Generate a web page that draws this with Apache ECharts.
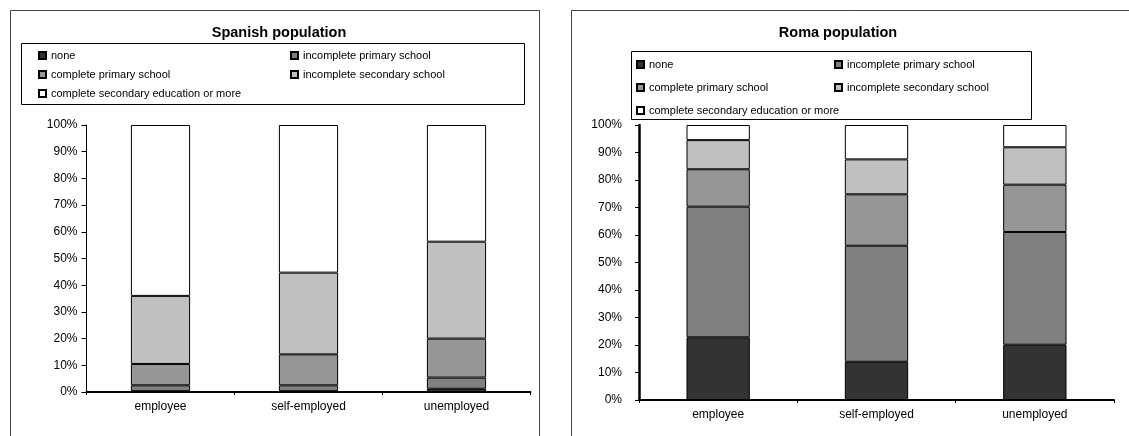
<!DOCTYPE html>
<html>
<head>
<meta charset="utf-8">
<title>Education level by employment status</title>
<script src="https://cdn.jsdelivr.net/npm/echarts@6/dist/echarts.min.js"></script>
<style>
  html, body { margin: 0; padding: 0; background: #ffffff; }
  #chart { width: 1129px; height: 436px; }
</style>
</head>
<body>
<div id="chart"></div>
<script>
// Employment status groups
const categories = ['employee', 'self-employed', 'unemployed'];

// Education levels (stack order, bottom to top)
const levels = [
  'none',
  'incomplete primary school',
  'complete primary school',
  'incomplete secondary school',
  'complete secondary education or more'
];

// Shares (%) per level, Spanish population
const spanishNone           = [0.3, 0.3, 1.2];
const spanishIncPrimary     = [2.2, 2.2, 4.2];
const spanishCompPrimary    = [8.0, 11.6, 14.6];
const spanishIncSecondary   = [25.5, 30.6, 36.3];
const spanishCompSecondary  = [64.0, 55.3, 43.7];

// Shares (%) per level, Roma population
const romaNone          = [22.8, 13.9, 20.1];
const romaIncPrimary    = [47.5, 42.2, 41.0];
const romaCompPrimary   = [13.6, 18.7, 17.2];
const romaIncSecondary  = [10.6, 12.7, 13.6];
const romaCompSecondary = [5.5, 12.5, 8.1];

const yTicks = ['0%', '10%', '20%', '30%', '40%', '50%', '60%', '70%', '80%', '90%', '100%'];

const levelColors = ['#333333', '#808080', '#969696', '#c0c0c0', '#ffffff'];

const spanishData = [spanishNone, spanishIncPrimary, spanishCompPrimary, spanishIncSecondary, spanishCompSecondary];
const romaData = [romaNone, romaIncPrimary, romaCompPrimary, romaIncSecondary, romaCompSecondary];

const FONT = '"Liberation Sans", Arial, sans-serif';

function makeSeries(dataSets, idx, stackName) {
  return dataSets.map((vals, i) => ({
    name: levels[i],
    type: 'bar',
    stack: stackName,
    xAxisIndex: idx,
    yAxisIndex: idx,
    barWidth: '40%',
    data: vals,
    itemStyle: { color: levelColors[i], borderColor: '#000', borderWidth: 1 },
    emphasis: { disabled: true },
    animation: false
  }));
}

function xAxisFor(idx) {
  return {
    type: 'category',
    gridIndex: idx,
    data: categories,
    axisLine: { lineStyle: { color: '#000', width: 2 } },
    axisTick: { show: true, length: 3, lineStyle: { color: '#000' } },
    axisLabel: { color: '#000', fontFamily: FONT, fontSize: 12, margin: 9 }
  };
}

function yAxisFor(idx, lineWidth, tickLen, labelMargin) {
  return {
    type: 'value',
    gridIndex: idx,
    min: 0,
    max: 100,
    interval: 10,
    axisLine: { show: true, lineStyle: { color: '#000', width: lineWidth } },
    axisTick: { show: true, length: tickLen, lineStyle: { color: '#000' } },
    splitLine: { show: false },
    axisLabel: {
      color: '#000', fontFamily: FONT, fontSize: 12, margin: labelMargin,
      formatter: v => yTicks[Math.round(v / 10)]
    }
  };
}

// One legend component per entry, laid out in a two-column grid
function legendItems(positions) {
  return positions.map((p, i) => ({
    data: [{ name: levels[i], icon: 'rect' }],
    left: p[0],
    top: p[1],
    orient: 'horizontal',
    itemWidth: 7,
    itemHeight: 7,
    selectedMode: false,
    padding: 0,
    textStyle: { color: '#000', fontFamily: FONT, fontSize: 11 }
  }));
}

const spanishLegendPos = [[38, 50], [290, 50], [38, 69], [290, 69], [38, 88]];
const romaLegendPos = [[636, 59], [834, 59], [636, 82], [834, 82], [636, 105]];

const chart = echarts.init(document.getElementById('chart'), null, { renderer: 'canvas' });

chart.setOption({
  backgroundColor: '#ffffff',
  animation: false,
  title: [
    {
      text: 'Spanish population',
      left: 274, top: 20, textAlign: 'center',
      textStyle: { fontFamily: FONT, fontSize: 14.5, fontWeight: 'bold', color: '#000' }
    },
    {
      text: 'Roma population',
      left: 833, top: 20, textAlign: 'center',
      textStyle: { fontFamily: FONT, fontSize: 14.5, fontWeight: 'bold', color: '#000' }
    }
  ],
  legend: legendItems(spanishLegendPos).concat(legendItems(romaLegendPos)),
  grid: [
    { left: 86.5, top: 125, width: 444, height: 267 },
    { left: 639, top: 125, width: 475, height: 275 }
  ],
  xAxis: [xAxisFor(0), xAxisFor(1)],
  yAxis: [yAxisFor(0, 1, 5, 9), yAxisFor(1, 2.5, 4, 17)],
  series: makeSeries(spanishData, 0, 'spanish').concat(makeSeries(romaData, 1, 'roma')),
  graphic: [
    // panel frames
    { type: 'rect', shape: { x: 10.5, y: 10.5, width: 529, height: 440 }, style: { fill: null, stroke: '#444', lineWidth: 1 }, silent: true },
    { type: 'rect', shape: { x: 571.5, y: 10.5, width: 600, height: 440 }, style: { fill: null, stroke: '#444', lineWidth: 1 }, silent: true },
    // legend boxes
    { type: 'rect', shape: { x: 21.5, y: 43.5, width: 503, height: 61 }, style: { fill: null, stroke: '#000', lineWidth: 1 }, silent: true, z: 10 },
    { type: 'rect', shape: { x: 631.5, y: 51.5, width: 400, height: 68 }, style: { fill: null, stroke: '#000', lineWidth: 1 }, silent: true, z: 10 }
  ]
});
</script>
</body>
</html>
